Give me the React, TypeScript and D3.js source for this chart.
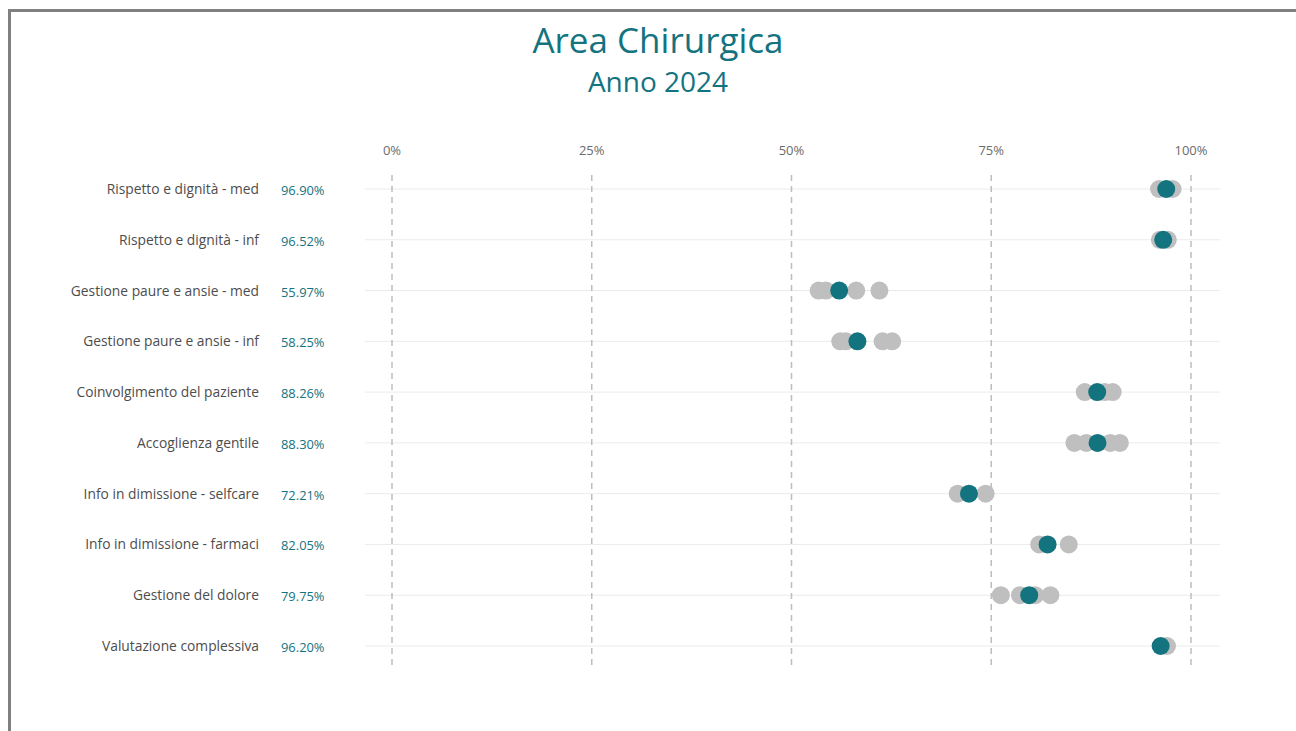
import React from "react";
import * as d3 from "d3";

const categories = [
  "Rispetto e dignità - med",
  "Rispetto e dignità - inf",
  "Gestione paure e ansie - med",
  "Gestione paure e ansie - inf",
  "Coinvolgimento del paziente",
  "Accoglienza gentile",
  "Info in dimissione - selfcare",
  "Info in dimissione - farmaci",
  "Gestione del dolore",
  "Valutazione complessiva",
];

const overallValues = [96.9, 96.52, 55.97, 58.25, 88.26, 88.3, 72.21, 82.05, 79.75, 96.2];

const otherValues: number[][] = [
  [96.0, 97.7],
  [96.1, 97.1],
  [53.4, 54.3, 58.1, 61.0],
  [56.1, 56.8, 61.4, 62.6],
  [86.7, 89.2, 90.2],
  [85.4, 86.9, 89.9, 91.1],
  [70.8, 74.3],
  [81.0, 84.7],
  [76.2, 78.6, 80.5, 82.4],
  [97.0],
];

const tickValues = [0, 25, 50, 75, 100];

const TEAL = "#13737f";
const FONT = "'Open Sans', 'DejaVu Sans', sans-serif";

export default function App() {
  const W = 1296;
  const H = 731;
  const x = d3.scaleLinear().domain([0, 100]).range([392, 1191]);
  const y = d3.scalePoint<string>().domain(categories).range([189, 646]);

  return (
    <div style={{ position: "fixed", left: 0, top: 0, width: W, height: H, overflow: "hidden", background: "#fff" }}>
      <svg width={W} height={H} style={{ display: "block" }} fontFamily={FONT}>
        <rect x={9.5} y={10.5} width={1400} height={800} fill="none" stroke="#808080" strokeWidth={3} />
        <text x={658} y={53} textAnchor="middle" fontSize={35} fill={TEAL}>
          Area Chirurgica
        </text>
        <text x={658} y={92} textAnchor="middle" fontSize={28} fill={TEAL}>
          Anno 2024
        </text>
        {categories.map((c) => (
          <line key={"h" + c} x1={365} x2={1220} y1={y(c)} y2={y(c)} stroke="#ebebeb" strokeWidth={1} />
        ))}
        {tickValues.map((t) => (
          <g key={"t" + t}>
            <line x1={x(t)} x2={x(t)} y1={175} y2={666} stroke="#bdbdbd" strokeWidth={1.5} strokeDasharray="6,5" />
            <text x={x(t)} y={155} textAnchor="middle" fontSize={13} fill="#6b6b6b">
              {t + "%"}
            </text>
          </g>
        ))}
        {categories.map((c, i) => (
          <g key={"r" + c}>
            {otherValues[i].map((v, j) => (
              <circle key={j} cx={x(v)} cy={y(c)} r={9} fill="#bfbfbf" />
            ))}
            <circle cx={x(overallValues[i])} cy={y(c)} r={9} fill={TEAL} />
            <text x={259} y={(y(c) as number) + 5} textAnchor="end" fontSize={13.8} fill="#4d4d4d">
              {c}
            </text>
            <text x={281} y={(y(c) as number) + 6} textAnchor="start" fontSize={12.9} fill={TEAL}>
              {overallValues[i].toFixed(2) + "%"}
            </text>
          </g>
        ))}
      </svg>
    </div>
  );
}
